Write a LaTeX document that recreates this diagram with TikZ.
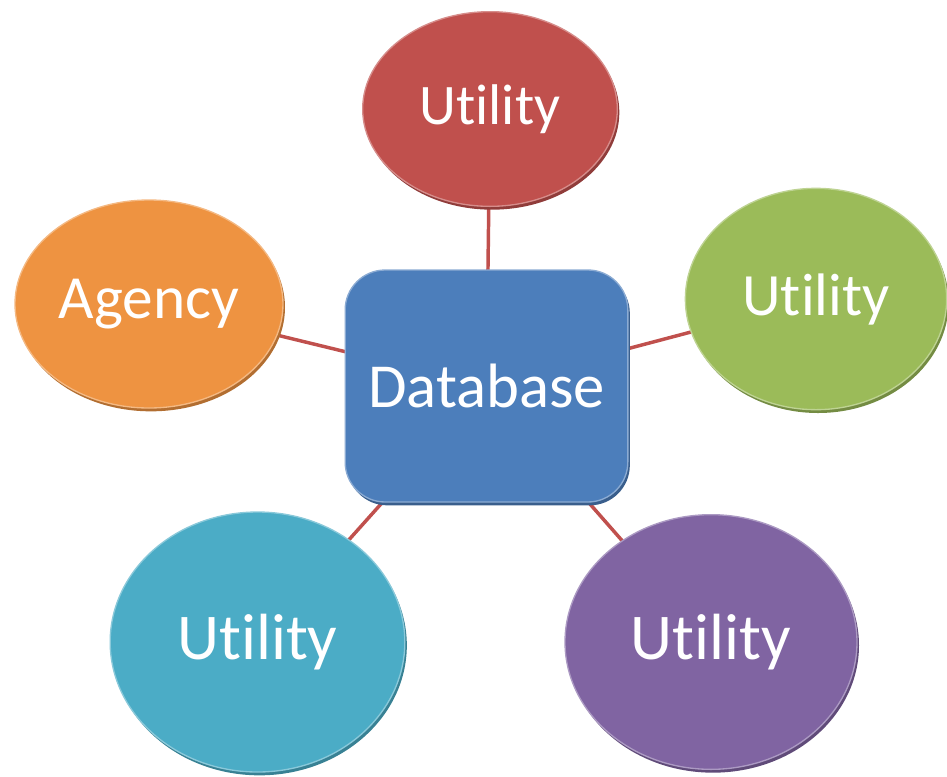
\documentclass[tikz,border=0pt]{standalone}
\usepackage{fontspec}
\setmainfont{Carlito}[Ligatures={NoCommon}]
\usetikzlibrary{shapes.geometric,shadows,backgrounds}
\definecolor{cRed}{HTML}{C0504D}
\definecolor{cGreen}{HTML}{9BBB59}
\definecolor{cOrange}{HTML}{EE9341}
\definecolor{cBlue}{HTML}{4C7EBB}
\definecolor{cTeal}{HTML}{4BACC6}
\definecolor{cPurple}{HTML}{8064A2}
\definecolor{cLine}{HTML}{C0504D}
\begin{document}
\begin{tikzpicture}[x=0.75pt,y=0.75pt,
  disc/.style={ellipse, inner sep=0pt, fill=#1, draw=#1!65!white, line width=1pt, text=white,
    general shadow={fill=#1!75!black, shadow xshift=1.5pt, shadow yshift=-2.5pt}},
  dbbox/.style={rectangle, rounded corners=30pt, inner sep=0pt, fill=#1, draw=#1!65!white, line width=1pt, text=white,
    general shadow={fill=#1!75!black, shadow xshift=1.5pt, shadow yshift=-2.5pt}},
  conn/.style={draw=cLine, line width=2.6pt}]
\useasboundingbox (0,0) rectangle (947,-776);

\node[dbbox=cBlue, minimum width=212pt, minimum height=174pt, font=\fontsize{47}{56}\selectfont] (db) at (486.5,-386) {Database};
\node[disc=cRed, minimum width=191pt, minimum height=146pt, font=\fontsize{43}{50}\selectfont] (u1) at (490,-109) {Utility};
\node[disc=cGreen, minimum width=196pt, minimum height=166pt, font=\fontsize{45}{52}\selectfont] (u2) at (816,-299) {Utility};
\node[disc=cOrange, minimum width=201pt, minimum height=156pt, font=\fontsize{46}{54}\selectfont] (ag) at (149,-304) {Agency};
\node[disc=cTeal, minimum width=221pt, minimum height=195pt, font=\fontsize{49}{58}\selectfont] (u3) at (257.5,-642) {Utility};
\node[disc=cPurple, minimum width=219pt, minimum height=191pt, font=\fontsize{49}{58}\selectfont] (u4) at (711,-642) {Utility};

\begin{pgfonlayer}{background}
\draw[conn] (db.center) -- (u1.center);
\draw[conn] (db.center) -- (u2.center);
\draw[conn] (db.center) -- (ag.center);
\draw[conn] (db.center) -- (u3.center);
\draw[conn] (db.center) -- (u4.center);
\end{pgfonlayer}
\end{tikzpicture}
\end{document}
